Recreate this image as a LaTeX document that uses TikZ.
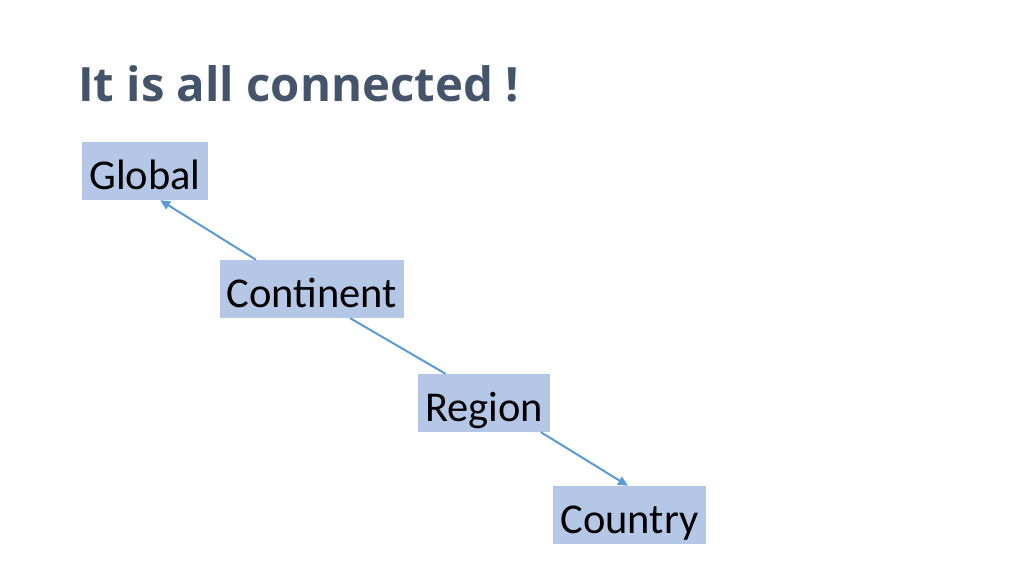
\documentclass[tikz,border=0pt]{standalone}
\usepackage{fontspec}
\setmainfont{Carlito}
\newfontfamily\titlefont{Open Sans}
\usetikzlibrary{arrows.meta,calc}
\definecolor{titlecol}{HTML}{44546A}
\definecolor{boxfill}{HTML}{B4C7E7}
\definecolor{linecol}{HTML}{5B9BD5}
\tikzset{
  levelbox/.style={fill=boxfill, draw=none, inner sep=0pt, minimum height=58pt},
  leveltext/.style={anchor=base, font=\fontsize{42.5}{50}\selectfont, text=black},
  link/.style={draw=linecol, line width=2pt},
  arrowlink/.style={link, -{Triangle[length=10pt,width=9pt]}}
}
\begin{document}
\begin{tikzpicture}[x=1pt,y=-1pt]
\useasboundingbox (0,0) rectangle (1024,575);
\fill[white] (0,0) rectangle (1024,575);
\node[anchor=base west, inner sep=0pt, font=\titlefont\bfseries\fontsize{47.3}{56}\selectfont, text=titlecol] (title) at (78,102) {It is all connected !};
\node[levelbox, minimum width=126pt] (global) at (145,171) {};
\node[leveltext] (globalt) at (145,189) {Global};
\node[levelbox, minimum width=184pt] (cont) at (312,289) {};
\node[leveltext] (contt) at (312,307) {Continent};
\node[levelbox, minimum width=132pt] (region) at (484,403) {};
\node[leveltext] (regiont) at (484,421) {Region};
\node[levelbox, minimum width=153pt] (country) at (629.5,515) {};
\node[leveltext] (countryt) at (629.5,533) {Country};
\draw[arrowlink] ($(cont.north west)!0.196!(cont.north east)$) -- ($(global.south west)!0.62!(global.south east)$);
\draw[link] ($(cont.south west)!0.707!(cont.south east)$) -- ($(region.north west)!0.21!(region.north east)$);
\draw[arrowlink] ($(region.south west)!0.93!(region.south east)$) -- ($(country.north west)!0.49!(country.north east)$);
\end{tikzpicture}
\end{document}
